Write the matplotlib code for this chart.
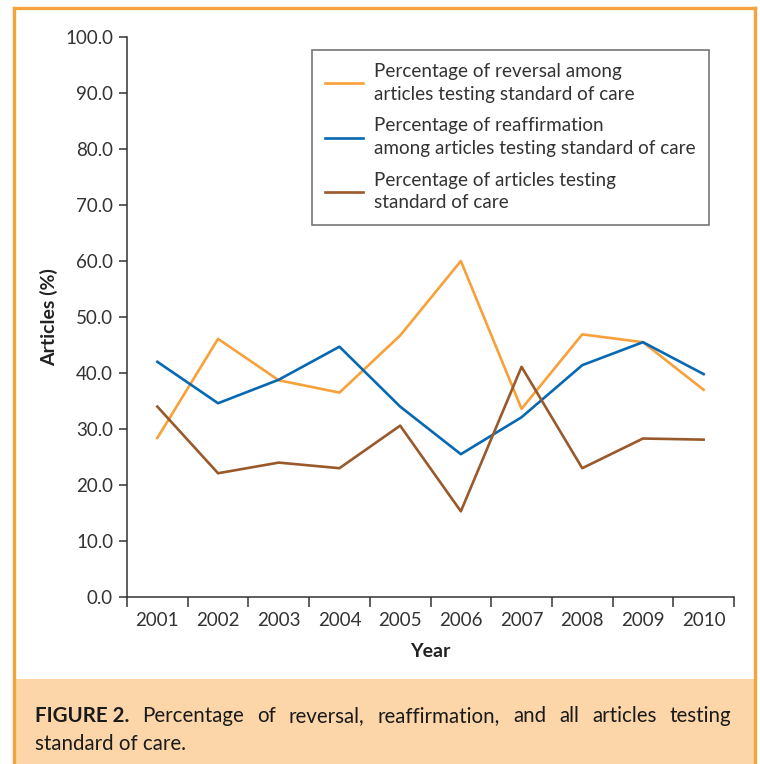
import matplotlib
matplotlib.use('Agg')
import matplotlib.pyplot as plt
from matplotlib.patches import Rectangle
from matplotlib.lines import Line2D

plt.rcParams['font.family'] = ['Lato', 'DejaVu Sans']

years = ['2001', '2002', '2003', '2004', '2005', '2006', '2007', '2008', '2009', '2010']
reversal = [28.4, 46.1, 38.7, 36.5, 46.7, 60.0, 33.6, 46.9, 45.5, 37.0]
reaffirmation = [42.0, 34.6, 38.8, 44.7, 34.0, 25.5, 32.1, 41.4, 45.5, 39.8]
testing_soc = [34.0, 22.1, 24.0, 23.0, 30.6, 15.3, 41.1, 23.0, 28.3, 28.1]

labels = ['Percentage of reversal among\narticles testing standard of care',
          'Percentage of reaffirmation\namong articles testing standard of care',
          'Percentage of articles testing\nstandard of care']
colors = ['#F8A13A', '#0869B2', '#99592B']

W, H = 760, 764
fig = plt.figure(figsize=(W / 100, H / 100), dpi=100)


def fx(x):
    return x / W


def fy(y):
    return 1 - y / H


# рамка и подпись
fig.patches.append(Rectangle((fx(14), 0), fx(740), fy(679), transform=fig.transFigure,
                             facecolor='#FCD6A8', edgecolor='none', zorder=0))
for xs, ys in [([13.5, 13.5], [H, 8]), ([13.5, 754.5], [8, 8]), ([754.5, 754.5], [8, H])]:
    fig.lines.append(Line2D([fx(v) for v in xs], [fy(v) for v in ys], transform=fig.transFigure,
                            color='#F5A33C', lw=2.4, zorder=1))

ax = fig.add_axes([fx(127), fy(597), fx(734 - 127), (597 - 37) / H])
ax.set_facecolor('none')

x = list(range(len(years)))
for vals, c, lab in zip([reversal, reaffirmation, testing_soc], colors, labels):
    ax.plot(x, vals, color=c, lw=1.9, label=lab)

ax.set_xlim(-0.5, len(years) - 0.5)
ax.set_ylim(0, 100)
ax.set_yticks(range(0, 101, 10))
ax.set_yticklabels([f'{v:.1f}' for v in range(0, 101, 10)])
ax.set_xticks([i - 0.5 for i in range(len(years) + 1)])
ax.set_xticklabels([])
ax.set_xticks(x, minor=True)
ax.set_xticklabels(years, minor=True)
ax.tick_params(axis='x', which='minor', length=0, pad=11, labelsize=13.5, labelcolor='#333333')
ax.tick_params(axis='x', which='major', length=7, width=1.1, color='#333333')
ax.tick_params(axis='y', length=6, width=1.1, color='#333333', labelsize=13.5,
               labelcolor='#333333', pad=4)

for s in ['top', 'right']:
    ax.spines[s].set_visible(False)
for s in ['left', 'bottom']:
    ax.spines[s].set_color('#333333')
    ax.spines[s].set_linewidth(1.1)

ax.set_xlabel('Year', fontsize=14, fontweight='bold', color='#222222', labelpad=10)
ax.set_ylabel('Articles (%)', fontsize=14, fontweight='bold', color='#222222', labelpad=5)

leg = ax.legend(loc='upper left', bbox_to_anchor=(0.305, 0.977), borderaxespad=0,
                fontsize=13.6, frameon=True, fancybox=False, handlelength=2.0,
                handletextpad=0.6, labelspacing=0.78, borderpad=0.7, labelcolor='#333333')
leg.get_frame().set_edgecolor('#555555')
leg.get_frame().set_linewidth(1.2)
for t in leg.get_texts():
    t.set_linespacing(1.4)

# подпись с выравниванием по ширине
fig.canvas.draw()
r = fig.canvas.get_renderer()
words = ['FIGURE 2.'] + 'Percentage of reversal, reaffirmation, and all articles testing'.split()
left, right = 35, 731
objs = []
for i, w in enumerate(words):
    t = fig.text(0, fy(722), w, fontsize=14.8, color='#1a1a1a', va='baseline',
                 fontweight='bold' if i == 0 else 'normal')
    objs.append(t)
widths = [t.get_window_extent(r).width for t in objs]
gap = (right - left - sum(widths)) / (len(words) - 1)
pos = left
for t, w in zip(objs, widths):
    t.set_x(fx(pos))
    pos += w + gap
fig.text(fx(left), fy(750), 'standard of care.', fontsize=14.8, color='#1a1a1a', va='baseline')

fig.savefig('out.png', dpi=100, facecolor='white')
